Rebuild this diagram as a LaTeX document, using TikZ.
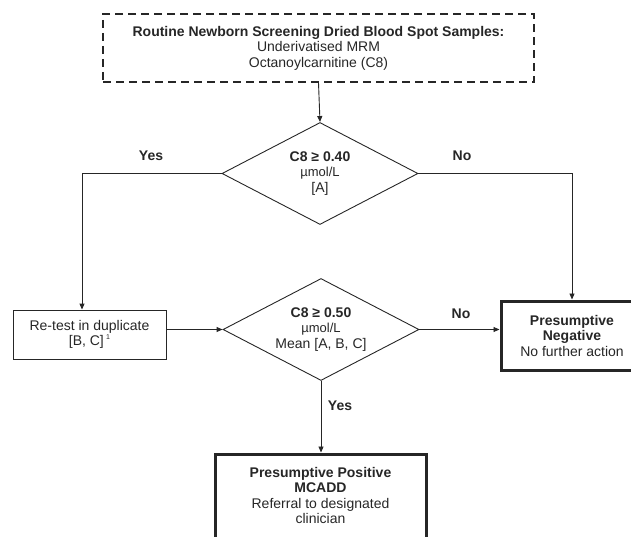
\documentclass[tikz,border=0pt]{standalone}
\usepackage{fontspec}
\setmainfont{Liberation Sans}
\usetikzlibrary{arrows.meta, shapes.geometric}
\definecolor{ink}{HTML}{262626}

\begin{document}
\begin{tikzpicture}[x=1pt, y=-1pt, line width=0.9pt, draw=ink, text=ink,
        font=\fontsize{14}{15.5}\selectfont,
        box/.style={draw, rectangle, inner sep=0pt, align=center},
        outcome/.style={box, line width=3pt},
        decision/.style={draw, diamond, aspect=2, inner sep=0pt, align=center,
            minimum width=196pt, minimum height=102pt},
        flow/.style={-{Triangle[length=6pt, width=5pt]}},
        answer/.style={font=\fontsize{14}{15}\selectfont\bfseries}]
        \clip (0,0) rectangle (631,537);

        \node[box, dashed, dash pattern=on 8pt off 5pt, line width=2pt,
            minimum width=431pt, minimum height=68pt] (samples) at (318.5,48)
            {\textbf{Routine Newborn Screening Dried Blood Spot Samples:}\\
             Underivatised MRM\\ Octanoylcarnitine (C8)};

        \node[decision] (check1) at (320,173.5)
            {\textbf{C8 ≥ 0.40}\\ {\fontsize{13}{14}\selectfont µmol/L}\\ {}[A]};
        \node[decision] (check2) at (321,329.5)
            {\textbf{C8 ≥ 0.50}\\ {\fontsize{13}{14}\selectfont µmol/L}\\ Mean [A, B, C]};

        \node[box, minimum width=153pt, minimum height=49pt] (retest) at (89.5,334.5)
            {Re-test in duplicate\\ {}[B, C]\,\raisebox{6pt}{\fontsize{7}{7}\selectfont 1}};
        \node[outcome, minimum width=142pt, minimum height=69pt] (negative) at (572,335.5)
            {\textbf{Presumptive}\\ \textbf{Negative}\\ No further action};
        \node[outcome, minimum width=211pt, minimum height=106pt] (positive) at (320.5,507)
            {\textbf{Presumptive Positive}\\ \textbf{MCADD}\\ Referral to designated\\ clinician\\[8pt]};

        \draw[flow] (samples.south) -- (check1.north);
        \draw[flow] (check1.west) -| (retest.north -| 82,0);
        \draw[flow] (check1.east) -| (negative.north);
        \draw[flow] (retest.east |- check2.west) -- (check2.west);
        \draw[flow] (check2.east) -- (negative.west |- check2.east);
        \draw[flow] (check2.south) -- (positive.north -| check2.south);

        \node[answer] (yes1) at (151,156) {Yes};
        \node[answer] (no1) at (462,156) {No};
        \node[answer] (no2) at (461,314) {No};
        \node[answer] (yes2) at (340,406) {Yes};
\end{tikzpicture}
\end{document}
